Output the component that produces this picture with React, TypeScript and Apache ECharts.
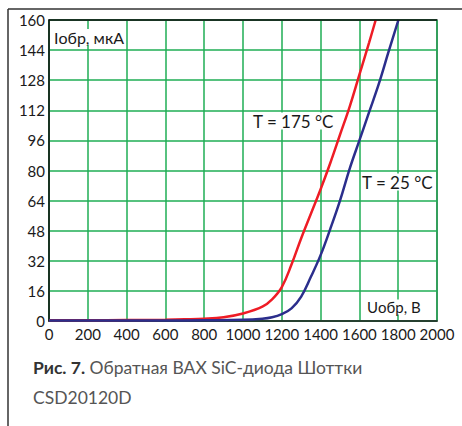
import React, { useEffect, useRef } from "react";
import * as echarts from "echarts";

const xTicks = { min: 0, max: 2000, interval: 200 };
const yTicks = { min: 0, max: 160, interval: 16 };

const voltage175 = [0, 200, 400, 600, 700, 800, 900, 1000, 1100, 1150, 1200, 1250, 1300, 1350, 1400, 1450, 1500, 1550, 1600, 1650, 1684];
const current175 = [0.4, 0.4, 0.5, 0.7, 0.9, 1.2, 2, 4, 7.6, 11.5, 18, 30, 44, 57, 70, 84, 99, 114, 131, 148, 160];

const voltage25 = [0, 200, 400, 600, 800, 1000, 1100, 1150, 1200, 1250, 1300, 1350, 1400, 1450, 1500, 1550, 1600, 1650, 1700, 1750, 1801];
const current25 = [0.3, 0.3, 0.3, 0.3, 0.4, 0.6, 1.2, 2, 3.7, 6.7, 13, 23.5, 35, 49, 64, 81, 96, 111, 126, 143, 160];

const yAxisTitle = "Iобр, мкА";
const xAxisTitle = "Uобр, В";
const label175 = "T = 175 °C";
const label25 = "T = 25 °C";
const captionBold = "Рис. 7.";
const captionText = " Обратная ВАХ SiC-диода Шоттки";
const captionLine2 = "CSD20120D";

const FONT = "Lato, 'Open Sans', sans-serif";

export default function App() {
  const ref = useRef<HTMLDivElement>(null);
  useEffect(() => {
    document.body.style.margin = "0";
    const chart = echarts.init(ref.current!, undefined, { renderer: "svg" });
    const gridLeft = 49, gridTop = 20, gridRight = 25, gridBottom = 105;
    chart.setOption({
      animation: false,
      backgroundColor: "#ffffff",
      grid: {
        left: gridLeft,
        top: gridTop,
        right: gridRight,
        bottom: gridBottom,
        show: true,
        borderColor: "#4a4a4a",
        borderWidth: 1.5,
        containLabel: false,
        outerBoundsMode: "none",
      },
      xAxis: {
        type: "value",
        ...xTicks,
        axisLine: { show: true, lineStyle: { color: "#222", width: 1.5 } },
        axisTick: { show: false },
        splitLine: { show: true, lineStyle: { color: "#1fae55", width: 1.5 } },
        axisLabel: {
          color: "#1a1a1a", fontSize: 15, fontFamily: FONT, margin: 5,
          formatter: (v: number) => String(v),
        },
      },
      yAxis: {
        type: "value",
        ...yTicks,
        axisLine: { show: true, lineStyle: { color: "#111", width: 1.5 } },
        axisTick: { show: false },
        splitLine: { show: true, lineStyle: { color: "#1fae55", width: 1.5 } },
        axisLabel: {
          color: "#1a1a1a", fontSize: 15, fontFamily: FONT, margin: 4,
          formatter: (v: number) => String(v),
        },
      },
      series: [
        {
          type: "line",
          name: label175,
          data: voltage175.map((v, i) => [v, current175[i]]),
          smooth: 0.4,
          symbol: "none",
          lineStyle: { color: "#ee1c25", width: 2.5 },
          z: 3,
        },
        {
          type: "line",
          name: label25,
          data: voltage25.map((v, i) => [v, current25[i]]),
          smooth: 0.4,
          symbol: "none",
          lineStyle: { color: "#2b2e8c", width: 2.5 },
          z: 4,
        },
      ],
      graphic: [
        { type: "line", shape: { x1: 8, y1: 9, x2: 462, y2: 9 }, style: { stroke: "#333", lineWidth: 1.5 } },
        { type: "line", shape: { x1: 8, y1: 9, x2: 8, y2: 426 }, style: { stroke: "#333", lineWidth: 1.5 } },
        { type: "line", shape: { x1: gridLeft, y1: gridTop, x2: 437, y2: gridTop }, style: { stroke: "#111", lineWidth: 1.5 }, z: 10 },
        {
          type: "text", x: 54, y: 37,
          style: { text: yAxisTitle, fill: "#1a1a1a", font: `16px ${FONT}`, verticalAlign: "middle", backgroundColor: "#fff" },
          z: 10,
        },
        {
          type: "text", x: 253, y: 121,
          style: { text: label175, fill: "#1a1a1a", font: `17px ${FONT}`, verticalAlign: "middle", backgroundColor: "#fff" },
          z: 10,
        },
        {
          type: "text", x: 362, y: 182,
          style: { text: label25, fill: "#1a1a1a", font: `17px ${FONT}`, verticalAlign: "middle", backgroundColor: "#fff" },
          z: 10,
        },
        {
          type: "text", x: 367, y: 307,
          style: { text: xAxisTitle, fill: "#1a1a1a", font: `15px ${FONT}`, verticalAlign: "middle", backgroundColor: "#fff" },
          z: 10,
        },
        {
          type: "text", x: 33, y: 352,
          style: {
            text: `{b|${captionBold}}{n|${captionText}}\n{n|${captionLine2}}`,
            verticalAlign: "top",
            rich: {
              b: { font: `bold 17.5px ${FONT}`, fill: "#333", lineHeight: 30 },
              n: { font: `17.5px ${FONT}`, fill: "#555", lineHeight: 30 },
            },
          },
        },
      ],
    });
    return () => chart.dispose();
  }, []);
  return <div ref={ref} style={{ width: 462, height: 426 }} />;
}
